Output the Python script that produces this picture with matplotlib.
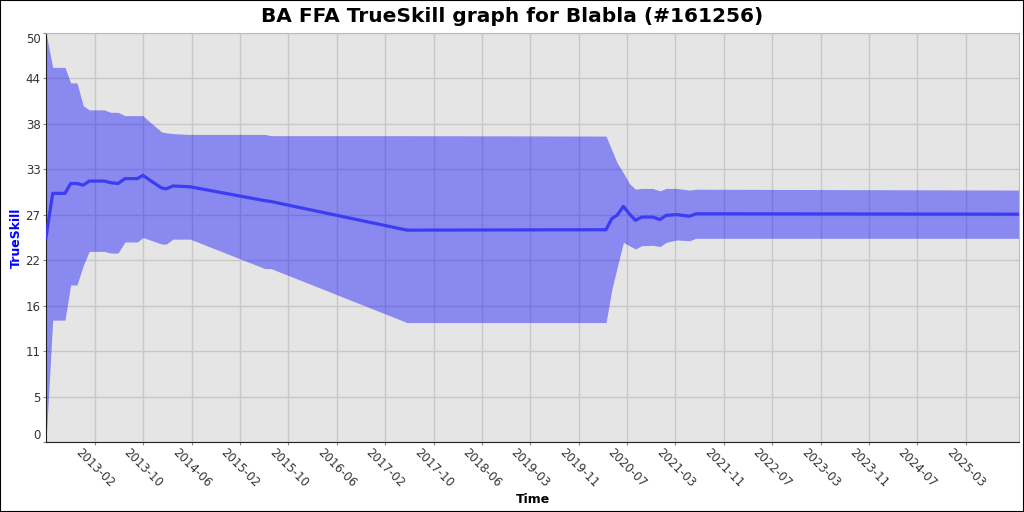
import numpy as np
import pandas as pd
import matplotlib
matplotlib.use("Agg")
import matplotlib.pyplot as plt
import matplotlib.dates as mdates
from matplotlib.ticker import FixedLocator, FixedFormatter

# data (date, mu, mu+3sigma, mu-3sigma)
dates = ["2012-06-01", "2012-07-05", "2012-09-05", "2012-10-04", "2012-11-05",
         "2012-12-07", "2013-01-06", "2013-03-22", "2013-04-25", "2013-06-01",
         "2013-07-06", "2013-09-07", "2013-10-05", "2013-11-10", "2014-01-08",
         "2014-02-01", "2014-03-05", "2014-06-01", "2015-06-15", "2015-07-16",
         "2017-06-04", "2020-03-08", "2020-04-06", "2020-05-04", "2020-06-04",
         "2020-07-04", "2020-08-04", "2020-09-05", "2020-10-30", "2020-12-07",
         "2021-01-06", "2021-03-01", "2021-05-04", "2021-06-07", "2025-11-29"]
mu = [25.0, 30.4, 30.4, 31.6, 31.6, 31.4, 31.9, 31.9, 31.7, 31.6,
      32.2, 32.2, 32.6, 32.0, 31.05, 30.95, 31.3, 31.2, 29.5, 29.4,
      25.9, 25.95, 27.3, 27.75, 28.8, 27.9, 27.1, 27.5, 27.5, 27.2,
      27.7, 27.8, 27.6, 27.9, 27.85]
upper = [50.0, 45.8, 45.8, 43.9, 43.9, 41.1, 40.6, 40.6, 40.3, 40.3,
         39.9, 39.9, 39.9, 39.1, 37.9, 37.8, 37.7, 37.6, 37.6, 37.45,
         37.45, 37.4, 35.7, 34.1, 32.9, 31.6, 30.9, 31.0, 31.0, 30.7,
         31.0, 31.0, 30.8, 30.9, 30.8]
lower = [0.0, 14.9, 14.9, 19.2, 19.2, 21.6, 23.3, 23.3, 23.1, 23.1,
         24.45, 24.45, 25.0, 24.7, 24.2, 24.2, 24.8, 24.8, 21.2, 21.2,
         14.6, 14.6, 18.6, 21.4, 24.4, 24.0, 23.6, 24.0, 24.05, 23.9,
         24.4, 24.7, 24.6, 24.9, 24.9]

tick_first = "2013-02-04"
tick_last = "2025-03-04"
tick_labels = ["2013-02", "2013-10", "2014-06", "2015-02", "2015-10", "2016-06",
               "2017-02", "2017-10", "2018-06", "2019-03", "2019-11", "2020-07",
               "2021-03", "2021-11", "2022-07", "2023-03", "2023-11", "2024-07",
               "2025-03"]

x = pd.to_datetime(dates)

fig = plt.figure(figsize=(10.24, 5.12), dpi=100)
fig.patch.set_facecolor("white")
fig.patches.append(plt.Rectangle((0, 0), 1, 1, transform=fig.transFigure,
                                 fill=False, edgecolor="black", linewidth=1.5))
ax = fig.add_axes([46/1024, 70/512, 973/1024, 409/512])
ax.set_facecolor("#e5e5e5")

ax.fill_between(x, lower, upper, color="blue", alpha=0.4, linewidth=0, zorder=2)
ax.plot(x, mu, color="#3c3cf2", linewidth=2.3, zorder=3)

ax.set_xlim(x[0], x[-1])
ax.set_ylim(0, 50)

yt = [k * 50 / 9 for k in range(10)]
ax.yaxis.set_major_locator(FixedLocator(yt))
ax.yaxis.set_major_formatter(FixedFormatter([str(int(v)) for v in yt]))

xt = pd.date_range(tick_first, tick_last, periods=len(tick_labels))
ax.xaxis.set_major_locator(FixedLocator(mdates.date2num(xt)))
ax.xaxis.set_major_formatter(FixedFormatter(tick_labels))

ax.grid(True, color="#c8c8c8", linewidth=1, zorder=1)
ax.set_axisbelow(True)
ax.tick_params(axis="both", length=2, color="#888888", labelsize=8.5,
               labelcolor="#333333")
ax.tick_params(axis="y", pad=2)
ax.tick_params(axis="x", pad=1)
for lbl in ax.get_xticklabels():
    lbl.set_rotation(-45)
    lbl.set_ha("center")
    lbl.set_va("top")
ylbls = ax.get_yticklabels()
ylbls[0].set_va("bottom")
ylbls[-1].set_va("top")

for s in ["top", "right"]:
    ax.spines[s].set_color("#bbbbbb")
for s in ["left", "bottom"]:
    ax.spines[s].set_color("#222222")

ax.set_ylabel("TrueSkill", color="blue", fontweight="bold", fontsize=9)
ax.yaxis.set_label_coords(-23/973, 0.5)
ax.set_xlabel("Time", fontweight="bold", fontsize=9)
ax.xaxis.set_label_coords(0.5, -51/409)
fig.text(0.5, 1 - 17/512, "BA FFA TrueSkill graph for Blabla (#161256)",
         fontweight="bold", fontsize=14.5, ha="center", va="center")

fig.savefig("out.png", dpi=100)
